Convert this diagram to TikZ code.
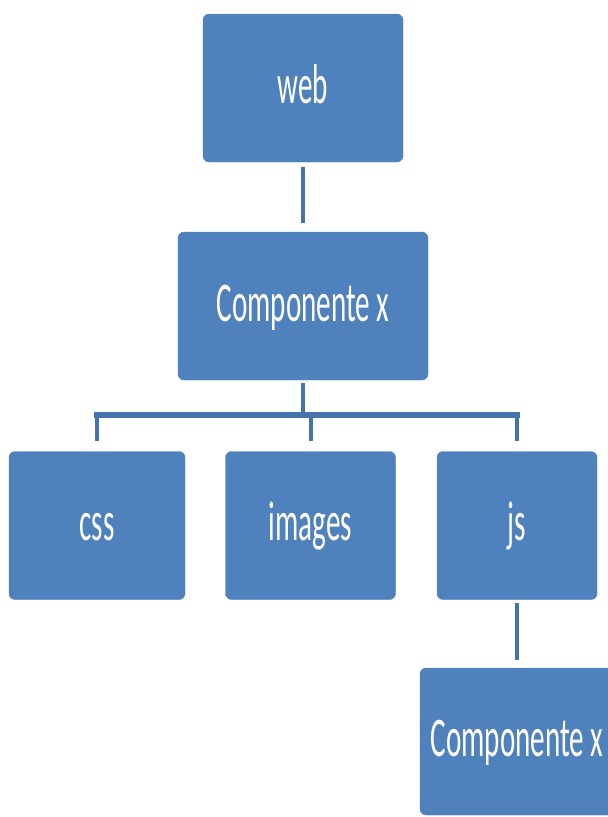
\documentclass[tikz,border=0pt]{standalone}
\usepackage{fontspec}
\setmainfont{Carlito}
\usepackage{graphicx}
\definecolor{boxblue}{HTML}{4F81BD}
\definecolor{linkblue}{HTML}{4573AC}
\begin{document}
\begin{tikzpicture}[x=1pt,y=-1pt,
  box/.style={rectangle, rounded corners=6pt, fill=boxblue, draw=boxblue,
    inner sep=0pt, minimum height=148pt, text=white,
    font=\fontsize{56}{60}\selectfont, text height=35pt, text depth=5pt},
  vlink/.style={draw=linkblue, line width=4pt},
  hlink/.style={draw=linkblue, line width=6.5pt, line cap=rect},
]
\useasboundingbox (0,0) rectangle (608,817);
\clip (0,0) rectangle (608,817);
\newcommand{\lbl}[1]{\scalebox{0.52}[1]{#1}}

% boxes
\node[box, minimum width=200pt] (web)    at (303,88)    {\lbl{web}};
\node[box, minimum width=250pt] (comp)   at (303,306)   {\lbl{Componente x}};
\node[box, minimum width=176pt] (css)    at (97,525.5)  {\lbl{css}};
\node[box, minimum width=170pt] (images) at (310.5,525.5) {\lbl{images}};
\node[box, minimum width=160pt] (js)     at (517,525.5) {\lbl{js}};
\node[box, minimum width=194pt, minimum height=147pt] (comp2) at (517,741.5) {\lbl{Componente x}};

% bus under the middle box
\coordinate (hub) at (303,415);

% connectors
\draw[vlink, shorten <=5pt, shorten >=9pt] (web.south) -- (comp.north);
\draw[vlink, shorten <=3pt] (comp.south) -- (hub);
\draw[hlink] (css.north |- hub) -- (js.north |- hub);
\draw[vlink, shorten >=10pt] (css.north |- hub) -- (css.north);
\draw[vlink, shorten >=10pt] (images.north |- hub) -- (images.north);
\draw[vlink, shorten >=10pt] (js.north |- hub) -- (js.north);
\draw[vlink, shorten <=3pt, shorten >=8pt] (js.south) -- (comp2.north);
\end{tikzpicture}
\end{document}
